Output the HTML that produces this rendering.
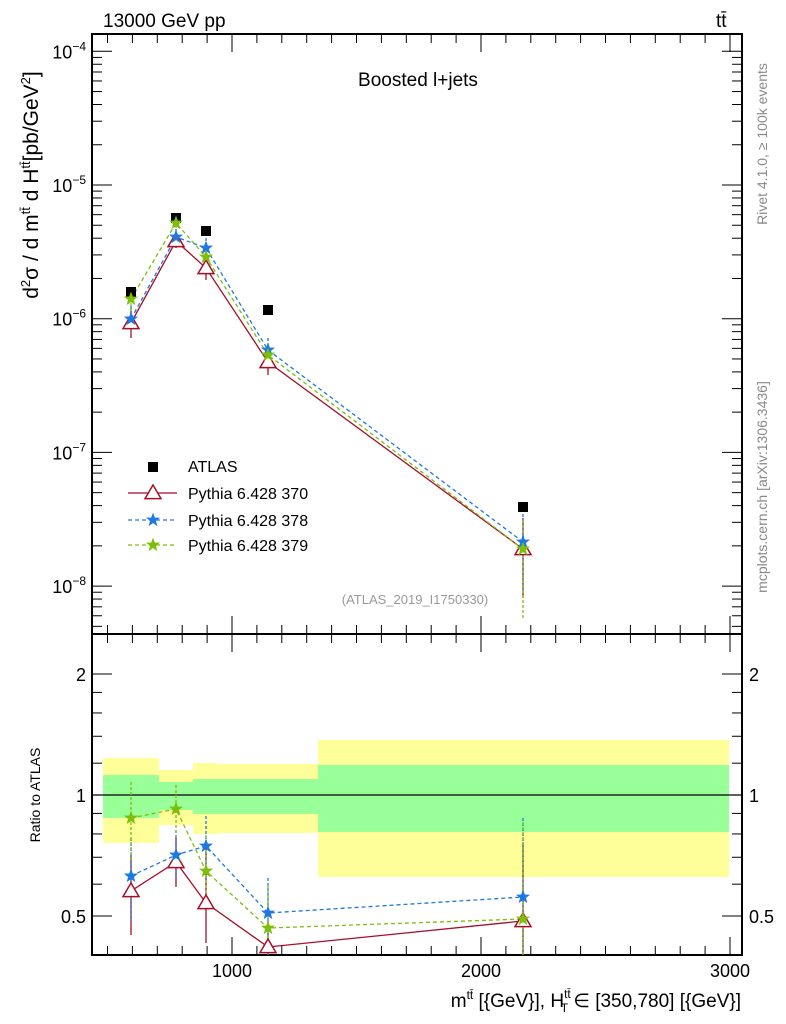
<!DOCTYPE html>
<html><head><meta charset="utf-8"><style>
html,body{margin:0;padding:0;background:#fff}
svg{display:block;font-family:"Liberation Sans",sans-serif}
</style></head><body>
<svg id="s" width="786" height="1024" viewBox="0 0 786 1024" xmlns="http://www.w3.org/2000/svg">
<g>
<rect x="103" y="758" width="56" height="85" fill="#ffff99"/>
<rect x="159" y="770" width="34" height="55" fill="#ffff99"/>
<rect x="193" y="763" width="25" height="71" fill="#ffff99"/>
<rect x="218" y="764" width="100" height="69" fill="#ffff99"/>
<rect x="318" y="740" width="411" height="137" fill="#ffff99"/>
<rect x="103" y="775" width="56" height="43" fill="#99ff99"/>
<rect x="159" y="782" width="34" height="28" fill="#99ff99"/>
<rect x="193" y="779" width="25" height="35" fill="#99ff99"/>
<rect x="218" y="779" width="100" height="35" fill="#99ff99"/>
<rect x="318" y="765" width="411" height="67" fill="#99ff99"/>
<line x1="92" y1="795" x2="742" y2="795" stroke="#000" stroke-width="1.3"/>
</g>
<g id="ticks" stroke="#000" stroke-width="1"></g>
<rect x="92" y="34" width="650" height="600" fill="none" stroke="#000" stroke-width="2"/>
<rect x="92" y="634" width="650" height="321" fill="none" stroke="#000" stroke-width="2"/>

<g fill="none" stroke-width="1.3">
<polyline points="131,323 176,241 206,268 268,362 523,549" stroke="#a50f2a"/>
<polyline points="131,319 176,237 206,248 268,350 523,542" stroke="#1f78e0" stroke-dasharray="4,3"/>
<polyline points="131,299 176,223 206,257 268,355 523,549" stroke="#7cbe0a" stroke-dasharray="4,3"/>
</g>
<g stroke-width="1.3">
<g stroke="#a50f2a"><line x1="131" y1="308" x2="131" y2="338"/><line x1="176" y1="234" x2="176" y2="248"/><line x1="206" y1="257" x2="206" y2="280"/><line x1="268" y1="348" x2="268" y2="375"/><line x1="523" y1="518" x2="523" y2="598"/></g>
<g stroke="#1f78e0" stroke-dasharray="3,2"><line x1="131" y1="306" x2="131" y2="332"/><line x1="176" y1="229" x2="176" y2="245"/><line x1="206" y1="238" x2="206" y2="258"/><line x1="268" y1="338" x2="268" y2="362"/><line x1="523" y1="514" x2="523" y2="590"/></g>
<g stroke="#7cbe0a" stroke-dasharray="3,2"><line x1="131" y1="288" x2="131" y2="311"/><line x1="176" y1="215" x2="176" y2="231"/><line x1="206" y1="248" x2="206" y2="268"/><line x1="268" y1="344" x2="268" y2="367"/><line x1="523" y1="520" x2="523" y2="620"/></g>
</g>
<g fill="#000">
<rect x="126" y="287" width="10" height="10"/><rect x="171" y="213" width="10" height="10"/><rect x="201" y="226" width="10" height="10"/><rect x="263" y="305" width="10" height="10"/><rect x="518" y="502" width="10" height="10"/>
</g>
<g id="mk"></g>

<g fill="none" stroke-width="1.3">
<polyline points="131,891 176,862 206,903 268,947 523,921" stroke="#a50f2a"/>
<polyline points="131,876 176,855 206,846 268,913 523,897" stroke="#1f78e0" stroke-dasharray="4,3"/>
<polyline points="131,818 176,809 206,871 268,928 523,919" stroke="#7cbe0a" stroke-dasharray="4,3"/>
</g>
<g stroke-width="1.3">
<g stroke="#a50f2a"><line x1="131" y1="855" x2="131" y2="935"/><line x1="176" y1="838" x2="176" y2="887"/><line x1="206" y1="843" x2="206" y2="943"/><line x1="268" y1="920" x2="268" y2="955"/><line x1="523" y1="842" x2="523" y2="955"/></g>
<g stroke="#1f78e0" stroke-dasharray="3,2"><line x1="131" y1="838" x2="131" y2="922"/><line x1="176" y1="830" x2="176" y2="880"/><line x1="206" y1="816" x2="206" y2="882"/><line x1="268" y1="878" x2="268" y2="955"/><line x1="523" y1="818" x2="523" y2="955"/></g>
<g stroke="#7cbe0a" stroke-dasharray="3,2"><line x1="131" y1="782" x2="131" y2="860"/><line x1="176" y1="785" x2="176" y2="835"/><line x1="206" y1="835" x2="206" y2="905"/><line x1="268" y1="885" x2="268" y2="955"/><line x1="523" y1="822" x2="523" y2="955"/></g>
</g>
<g id="mk2"></g>

<rect x="148" y="462" width="10" height="10" fill="#000"/>
<line x1="128" y1="493" x2="177" y2="493" stroke="#a50f2a" stroke-width="1.3"/>
<line x1="128" y1="520" x2="177" y2="520" stroke="#1f78e0" stroke-width="1.3" stroke-dasharray="4,3"/>
<line x1="128" y1="545" x2="177" y2="545" stroke="#7cbe0a" stroke-width="1.3" stroke-dasharray="4,3"/>
<g id="mk3"></g>
<g font-size="16" fill="#000">
<text x="188" y="472">ATLAS</text>
<text x="188" y="499">Pythia 6.428 370</text>
<text x="188" y="526">Pythia 6.428 378</text>
<text x="188" y="551">Pythia 6.428 379</text>
</g>

<text x="103" y="27" font-size="19">13000 GeV pp</text>
<text x="716" y="27" font-size="19">tt̄</text>
<text x="418" y="86" font-size="19" text-anchor="middle">Boosted l+jets</text>
<text x="415" y="604" font-size="13" fill="#999" text-anchor="middle">(ATLAS_2019_I1750330)</text>
<text transform="translate(767,144) rotate(-90)" font-size="14" fill="#888" text-anchor="middle">Rivet 4.1.0, ≥ 100k events</text>
<text transform="translate(767,487) rotate(-90)" font-size="14" fill="#888" text-anchor="middle">mcplots.cern.ch [arXiv:1306.3436]</text>
<text transform="translate(38,185) rotate(-90)" font-size="21" text-anchor="middle">d<tspan font-size="13" dy="-8">2</tspan><tspan dy="8">σ  /  d m</tspan><tspan font-size="13" dy="-8">tt̄</tspan><tspan dy="8"> d H</tspan><tspan font-size="13" dy="-8">tt̄</tspan><tspan dy="8">[pb/GeV</tspan><tspan font-size="13" dy="-8">2</tspan><tspan dy="8">]</tspan></text>
<text transform="translate(40,795) rotate(-90)" font-size="14" text-anchor="middle">Ratio to ATLAS</text>
<text x="741" y="1007" font-size="19" text-anchor="end">m<tspan font-size="12" dy="-8">tt̄</tspan><tspan dy="8"> [{GeV}], H</tspan><tspan font-size="12" dy="-9">tt̄</tspan><tspan font-size="12" dx="-10" dy="14">T</tspan><tspan dy="-5"> ∈ [350,780] [{GeV}]</tspan></text>
<g font-size="18" id="lbl"></g>
</svg>
<script>
var NS="http://www.w3.org/2000/svg",t=document.getElementById('ticks'),L=document.getElementById('lbl');
function ln(x1,y1,x2,y2){var e=document.createElementNS(NS,'line');e.setAttribute('x1',x1);e.setAttribute('y1',y1);e.setAttribute('x2',x2);e.setAttribute('y2',y2);t.appendChild(e);}
function tx(x,y,s,a,sup){var e=document.createElementNS(NS,'text');e.setAttribute('x',x);e.setAttribute('y',y);e.setAttribute('text-anchor',a);e.textContent=s;if(sup){var p=document.createElementNS(NS,'tspan');p.setAttribute('font-size','12');p.setAttribute('dy','-8');p.textContent=sup;e.appendChild(p);}L.appendChild(e);}
function X(v){return 232+(v-1000)*0.249;}
for(var v=500;v<=3000;v+=100){var x=X(v);if(x<93||x>741)continue;var len=(v%1000==0)?18:9;
 ln(x,634,x,634-len);ln(x,955,x,955-len);ln(x,34,x,34+len);ln(x,634,x,634+len);}
tx(232,977,'1000','middle');tx(481,977,'2000','middle');tx(730,977,'3000','middle');
function Y(e){return 185-(e+5)*133.7;}
for(var d=-9;d<=-4;d++){for(var m=1;m<10;m++){var y=Y(d+Math.log10(m));if(y<35||y>633)continue;var len=m==1?20:10;ln(92,y,92+len,y);ln(742,y,742-len,y);}}
[-4,-5,-6,-7,-8].forEach(function(d){tx(86,Y(d)+7,'10','end','−'+(-d));});
function R(r){return 795-Math.log2(r)*121;}
var rt=[0.4,0.5,0.6,0.7,0.8,0.9,1,1.2,1.4,1.6,1.8,2];
rt.forEach(function(r){var y=R(r);if(y<635||y>954)return;var big=(r==0.5||r==1||r==2),len=big?20:10;ln(92,y,92+len,y);ln(742,y,742-len,y);});
tx(86,R(2)+7,'2','end');tx(86,R(1)+7,'1','end');tx(86,R(0.5)+7,'0.5','end');
tx(749,R(2)+7,'2','start');tx(749,R(1)+7,'1','start');tx(749,R(0.5)+7,'0.5','start');
function tri(g,x,y){var e=document.createElementNS(NS,'polygon');var s=8;e.setAttribute('points',(x)+','+(y-s)+' '+(x-s)+','+(y+s*0.7)+' '+(x+s)+','+(y+s*0.7));e.setAttribute('fill','#fff');e.setAttribute('stroke','#a50f2a');e.setAttribute('stroke-width','1.5');g.appendChild(e);}
function star(g,x,y,c){var p=[];for(var i=0;i<10;i++){var r=i%2?2.5:6,a=-Math.PI/2+i*Math.PI/5;p.push((x+r*Math.cos(a)).toFixed(1)+','+(y+r*Math.sin(a)).toFixed(1));}var e=document.createElementNS(NS,'polygon');e.setAttribute('points',p.join(' '));e.setAttribute('fill',c);e.setAttribute('stroke',c);g.appendChild(e);}
var xs=[131,176,206,268,523];
function draw(g,r,b,gr){xs.forEach(function(x,i){tri(g,x,r[i]);star(g,x,b[i],'#1f78e0');star(g,x,gr[i],'#7cbe0a');});}
draw(document.getElementById('mk'),[323,241,268,362,549],[319,237,248,350,542],[299,223,257,355,549]);
draw(document.getElementById('mk2'),[891,862,903,947,921],[876,855,846,913,897],[818,809,871,928,919]);
var g3=document.getElementById('mk3');tri(g3,153,493);star(g3,153,520,'#1f78e0');star(g3,153,545,'#7cbe0a');
</script>
</body></html>
